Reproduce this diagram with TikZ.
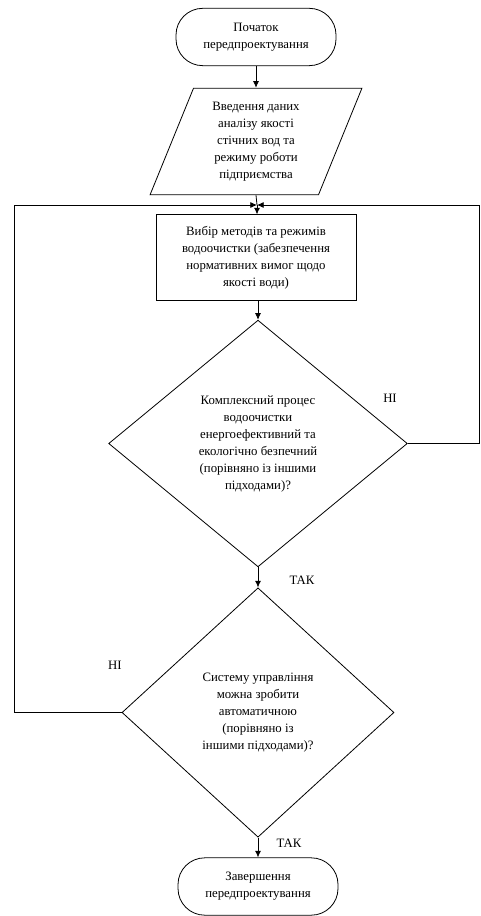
\documentclass[tikz,border=0pt]{standalone}
\usepackage{fontspec}
\setmainfont{Liberation Serif}
\usetikzlibrary{shapes.geometric, arrows.meta}

\tikzset{
    base/.style={draw, line width=0.6pt, align=center, inner sep=0pt,
        font=\rmfamily\fontsize{9.6}{12.75}\selectfont},
    terminal/.style={base, rectangle, rounded corners=20pt,
        minimum width=120pt, minimum height=43pt},
    inputbox/.style={base, trapezium, trapezium left angle=69,
        trapezium right angle=111, trapezium stretches=true,
        minimum width=159pt, minimum height=80pt},
    process/.style={base, rectangle, minimum width=150pt, minimum height=64pt},
    decision/.style={base, diamond},
    answer/.style={font=\rmfamily\fontsize{9.6}{12.75}\selectfont, inner sep=0pt},
    flow/.style={line width=0.6pt, -{Latex[length=5pt,width=4.5pt]}},
    line/.style={line width=0.6pt}
}

\begin{document}
\begin{tikzpicture}[x=0.75pt, y=-0.75pt]
    \useasboundingbox (0,0) rectangle (480,916);

    % Draw the blocks
    \node[terminal] (start) at (256,37) {Початок\\передпроектування};
    \node[inputbox] (data) at (256,141.5) {Введення даних\\аналізу якості\\стічних вод та\\режиму роботи\\підприємства};
    \node[process] (choice) at (256,257.5) {Вибір методів та режимів\\водоочистки (забезпечення\\нормативних вимог щодо\\якості води)};
    \node[decision, minimum width=224pt, minimum height=185pt] (energy) at (258,443.5) {Комплексний процес\\водоочистки\\енергоефективний та\\екологічно безпечний\\(порівняно із іншими\\підходами)?};
    \node[decision, minimum width=204pt, minimum height=187pt] (auto) at (258,712.5) {Систему управління\\можна зробити\\автоматичною\\(порівняно із\\іншими підходами)?};
    \node[terminal] (finish) at (258,886.5) {Завершення\\передпроектування};

    % Points for the loops
    \coordinate (merge) at (257,205);
    \coordinate (leftside) at (14,0);
    \coordinate (rightside) at (479,0);

    % Draw the main flow
    \draw[flow] (start.south) -- (data.north -| start.south);
    \draw[line] (data.south -| start.south) -- (merge);
    \draw[flow] (merge) -- (choice.north -| merge);
    \draw[flow] (choice.south -| energy.north) -- (energy.north);
    \draw[flow] (energy.south) -- (auto.north);
    \draw[flow] (auto.south) -- (finish.north);

    % Draw the return lines
    \draw[flow] (energy.east) -- (energy.east -| rightside) |- (merge);
    \draw[flow] (auto.west) -- (auto.west -| leftside) |- (merge);

    % Label the answers
    \node[answer] (no1) at (390,398) {НІ};
    \node[answer] (yes1) at (302,580) {ТАК};
    \node[answer] (no2) at (115,665) {НІ};
    \node[answer] (yes2) at (289,843) {ТАК};
\end{tikzpicture}
\end{document}
